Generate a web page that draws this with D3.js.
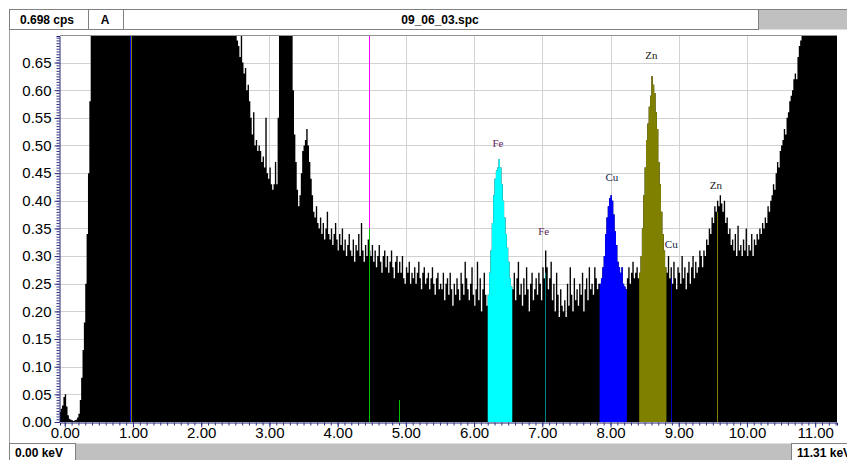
<!DOCTYPE html>
<html><head><meta charset="utf-8">
<script src="https://cdn.jsdelivr.net/npm/d3@7"></script>
<style>body{margin:0;background:#fff}svg{display:block}</style>
</head><body>
<svg id="c" width="847" height="460"></svg>
<script>
// ---------- data ----------
const energyStart = -0.08;   // keV, start of first channel
const channelWidth = 0.02;   // keV per channel
const counts = [
 0.018,0.024,0.030,0.045,0.050,0.028,0.012,0.006,0.004,0.003,
 0.002,0.003,0.004,0.008,0.015,0.040,0.080,0.130,0.180,0.250,
 0.340,0.450,0.580,0.750,0.93,1.15,1.40,1.62,1.85,2.05,
 2.21,2.38,2.52,2.66,2.80,2.95,3.08,3.22,3.41,3.65,
 3.94,4.32,4.81,5.35,5.92,6.40,6.71,6.85,6.62,6.18,
 5.64,5.10,4.62,4.21,3.88,3.60,3.37,3.18,3.02,2.88,
 2.76,2.65,2.55,2.46,2.38,2.31,2.24,2.18,2.12,2.07,
 2.02,1.97,1.93,1.89,1.85,1.81,1.78,1.74,1.71,1.68,
 1.65,1.62,1.59,1.56,1.54,1.51,1.49,1.46,1.44,1.42,
 1.39,1.37,1.35,1.33,1.31,1.29,1.27,1.25,1.23,1.21,
 1.19,1.17,1.15,1.13,1.11,1.09,1.07,1.05,1.03,1.01,
 0.99,0.97,0.96,0.94,0.93,0.91,0.90,0.88,0.87,0.85,
 0.84,0.83,0.81,0.80,0.79,0.77,0.76,0.74,0.72,0.71,
 0.69,0.68,0.66,0.70,0.65,0.63,0.64,0.60,0.61,0.58,
 0.55,0.52,0.56,0.50,0.51,0.49,0.50,0.49,0.47,0.48,
 0.46,0.55,0.45,0.44,0.46,0.43,0.42,0.43,0.47,0.43,
 0.55,0.85,1.20,1.60,1.90,2.00,1.80,1.50,1.20,0.95,
 0.75,0.60,0.52,0.47,0.42,0.39,0.41,0.45,0.49,0.50,
 0.51,0.53,0.50,0.47,0.44,0.41,0.38,0.37,0.39,0.36,
 0.35,0.37,0.34,0.36,0.33,0.35,0.38,0.34,0.33,0.35,
 0.32,0.34,0.36,0.33,0.31,0.34,0.32,0.35,0.31,0.33,
 0.30,0.32,0.34,0.31,0.30,0.33,0.29,0.32,0.31,0.34,
 0.30,0.36,0.31,0.29,0.32,0.30,0.33,0.31,0.30,0.32,
 0.29,0.31,0.28,0.30,0.32,0.29,0.27,0.30,0.31,0.28,
 0.30,0.27,0.29,0.31,0.28,0.26,0.29,0.30,0.27,0.29,
 0.27,0.30,0.26,0.25,0.28,0.27,0.29,0.25,0.27,0.26,
 0.28,0.25,0.27,0.29,0.26,0.24,0.27,0.28,0.25,0.26,
 0.27,0.24,0.26,0.28,0.25,0.23,0.26,0.27,0.24,0.25,
 0.24,0.27,0.22,0.25,0.26,0.23,0.27,0.24,0.21,0.25,
 0.23,0.26,0.24,0.22,0.27,0.25,0.23,0.29,0.26,0.24,
 0.22,0.25,0.28,0.23,0.21,0.24,0.29,0.22,0.26,0.20,
 0.24,0.27,0.23,0.21,0.23,0.27,0.31,0.36,0.41,0.44,
 0.455,0.46,0.475,0.46,0.43,0.40,0.37,0.34,0.315,0.29,
 0.26,0.245,0.24,0.27,0.22,0.26,0.29,0.23,0.25,0.21,
 0.26,0.23,0.28,0.24,0.20,0.25,0.27,0.22,0.24,0.26,
 0.23,0.27,0.25,0.22,0.28,0.26,0.31,0.28,0.24,0.26,
 0.29,0.22,0.25,0.20,0.27,0.23,0.19,0.24,0.21,0.20,
 0.22,0.19,0.25,0.21,0.28,0.23,0.20,0.26,0.22,0.24,
 0.21,0.25,0.23,0.27,0.20,0.24,0.26,0.22,0.28,0.24,
 0.25,0.23,0.28,0.26,0.24,0.25,0.25,0.26,0.28,0.30,
 0.34,0.37,0.39,0.405,0.41,0.40,0.375,0.345,0.32,0.29,
 0.28,0.27,0.28,0.25,0.245,0.24,0.26,0.28,0.25,0.27,
 0.29,0.26,0.27,0.28,0.26,0.27,0.30,0.35,0.41,0.46,
 0.51,0.54,0.57,0.59,0.625,0.61,0.595,0.56,0.53,0.47,
 0.43,0.38,0.34,0.31,0.28,0.27,0.30,0.26,0.28,0.25,
 0.29,0.26,0.24,0.28,0.27,0.25,0.30,0.26,0.28,0.24,
 0.27,0.29,0.25,0.28,0.30,0.26,0.29,0.27,0.28,0.31,
 0.30,0.28,0.31,0.30,0.33,0.32,0.35,0.34,0.37,0.36,
 0.39,0.38,0.40,0.39,0.41,0.395,0.38,0.40,0.36,0.37,
 0.34,0.35,0.32,0.33,0.31,0.34,0.30,0.355,0.31,0.32,
 0.30,0.33,0.31,0.35,0.30,0.32,0.31,0.34,0.30,0.33,
 0.32,0.34,0.33,0.35,0.34,0.36,0.35,0.37,0.36,0.39,
 0.38,0.40,0.41,0.43,0.42,0.45,0.47,0.46,0.49,0.50,
 0.51,0.53,0.52,0.55,0.56,0.58,0.59,0.60,0.62,0.63,
 0.62,0.66,0.68,0.69,0.71,0.74,0.79,0.86,0.92,0.97,
 1.04,1.12,1.18,1.25,1.33,1.41,1.48,1.57,1.66,1.74,
 1.85,1.93,2.04,2.15,2.26,2.38,2.51,2.63,2.77,2.90
];
const xTickValues = [0,1,2,3,4,5,6,7,8,9,10,11];
const yTickValues = [0,0.05,0.10,0.15,0.20,0.25,0.30,0.35,0.40,0.45,0.50,0.55,0.60,0.65];
const fullScaleCps = 0.698;
const fullScaleKeV = 11.31;

// regions of interest (coloured peaks)
const roiStart  = [6.20, 7.84, 8.42];
const roiEnd    = [6.56, 8.24, 8.82];
const roiColors = ['#00ffff', '#0000ff', '#808000'];

// marker lines
const markerEnergy = [0.95, 0.97, 4.46, 4.90, 7.04, 8.89, 9.56];
const markerTop    = [0.698, 0.698, 0.35, 0.04, 0.27, 0.26, 0.38];
const markerColors = ['#0000ff', '#808000', '#00c000', '#00c000', '#008080', '#0000c0', '#808000'];
const cursorEnergy = 4.46, cursorFrom = 0.35;

// element labels
const labelText   = ['Fe', 'Fe', 'Cu', 'Cu', 'Zn', 'Zn'];
const labelEnergy = [6.35, 7.02, 8.02, 8.89, 8.60, 9.545];
const labelValue  = [0.498, 0.339, 0.435, 0.314, 0.657, 0.422];
const labelColors = ['#602060', '#602060', '#102040', '#102040', '#202020', '#202020'];

// ---------- drawing ----------
const svg = d3.select('#c');
const L = 60, R = 837, T = 36, B = 422;
const x = d3.scaleLinear().domain([-0.07, 11.32]).range([L, R]);
const y = d3.scaleLinear().domain([0, fullScaleCps]).range([B, T]);

const chans = counts.map((v, i) => ({e: +(energyStart + i * channelWidth).toFixed(4), v}));
const last = chans[chans.length - 1];
const pts = chans.concat([{e: +(last.e + channelWidth).toFixed(4), v: last.v}]);

// outer frame
svg.append('line').attr('x1', 9.5).attr('x2', 9.5).attr('y1', 29).attr('y2', 444).attr('stroke', '#a0a0a0');

// header
const hdrY = 9.5, hdrH = 20;
svg.append('rect').attr('x', 758.5).attr('y', hdrY).attr('width', 90).attr('height', hdrH).attr('fill', '#c0c0c0');
[[9.5, 79], [88.5, 35], [123.5, 635]].forEach(([bx, bw]) => {
  svg.append('rect').attr('x', bx).attr('y', hdrY).attr('width', bw).attr('height', hdrH)
    .attr('fill', '#fff').attr('stroke', '#808080');
});
svg.append('line').attr('x1', 9.5).attr('x2', 847).attr('y1', hdrY).attr('y2', hdrY).attr('stroke', '#808080');
const hdrFont = "'Liberation Sans Narrow','Arial Narrow','Liberation Sans',sans-serif";
svg.append('text').attr('x', 47).attr('y', 23.5).attr('text-anchor', 'middle')
  .attr('font-family', hdrFont).attr('font-weight', 'bold').attr('font-size', 12)
  .text(fullScaleCps.toFixed(3) + ' cps');
svg.append('text').attr('x', 105).attr('y', 23.5).attr('text-anchor', 'middle')
  .attr('font-family', hdrFont).attr('font-weight', 'bold').attr('font-size', 12).text('A');
svg.append('text').attr('x', 440).attr('y', 23.5).attr('text-anchor', 'middle')
  .attr('font-family', hdrFont).attr('font-weight', 'bold').attr('font-size', 12).text('09_06_03.spc');

// footer
const ftY = 443.5;
svg.append('rect').attr('x', 75.5).attr('y', ftY).attr('width', 716).attr('height', 20).attr('fill', '#c0c0c0');
[[9.5, 66], [791.5, 60]].forEach(([bx, bw]) => {
  svg.append('rect').attr('x', bx).attr('y', ftY).attr('width', bw).attr('height', 20)
    .attr('fill', '#fff').attr('stroke', '#808080');
});
svg.append('text').attr('x', 15).attr('y', 457).attr('font-family', hdrFont).attr('font-weight', 'bold')
  .attr('font-size', 12).text('0.00 keV');
svg.append('text').attr('x', 797).attr('y', 457).attr('font-family', hdrFont).attr('font-weight', 'bold')
  .attr('font-size', 12).text(fullScaleKeV.toFixed(2) + ' keV');

// clip
svg.append('clipPath').attr('id', 'plot').append('rect')
  .attr('x', L).attr('y', T).attr('width', R - L).attr('height', B - T);
const g = svg.append('g').attr('clip-path', 'url(#plot)');

// grid
g.selectAll('.hg').data(yTickValues.filter(d => d > 0)).join('line')
  .attr('x1', L).attr('x2', R).attr('y1', d => Math.round(y(d)) + 0.5).attr('y2', d => Math.round(y(d)) + 0.5)
  .attr('stroke', '#d2d2d2');
g.selectAll('.vg').data(xTickValues.filter(d => d > 0)).join('line')
  .attr('y1', T).attr('y2', B).attr('x1', d => Math.round(x(d)) + 0.5).attr('x2', d => Math.round(x(d)) + 0.5)
  .attr('stroke', '#d2d2d2');

// spectrum
const area = d3.area().curve(d3.curveStepAfter)
  .x(d => x(d.e)).y0(y(0)).y1(d => y(Math.min(d.v, 5)));
g.append('path').datum(pts).attr('d', area).attr('fill', '#000');

// ROIs
roiStart.forEach((s, k) => {
  const sub = chans.filter(c => c.e >= s - 1e-6 && c.e + channelWidth <= roiEnd[k] + 1e-6);
  const lastC = sub[sub.length - 1];
  const sp = sub.concat([{e: +(lastC.e + channelWidth).toFixed(4), v: lastC.v}]);
  g.append('path').datum(sp).attr('d', area).attr('fill', roiColors[k]);
});

// markers
markerEnergy.forEach((e, k) => {
  const xx = Math.round(x(e)) + 0.5;
  g.append('line').attr('x1', xx).attr('x2', xx).attr('y1', y(0)).attr('y2', y(markerTop[k]))
    .attr('stroke', markerColors[k]).attr('stroke-width', 1);
});
{
  const xx = Math.round(x(cursorEnergy)) + 0.5;
  g.append('line').attr('x1', xx).attr('x2', xx).attr('y1', y(cursorFrom)).attr('y2', T)
    .attr('stroke', '#ff00ff');
}

// labels
labelText.forEach((t, k) => {
  g.append('text').attr('x', x(labelEnergy[k])).attr('y', y(labelValue[k])).attr('text-anchor', 'middle')
    .attr('font-family', "'Liberation Serif','Times New Roman',serif").attr('font-size', 11)
    .attr('fill', labelColors[k]).text(t);
});

// top frame
svg.append('line').attr('x1', L).attr('x2', R).attr('y1', T - 0.5).attr('y2', T - 0.5).attr('stroke', '#909090');

// axes
const axFont = "'Liberation Sans',Arial,sans-serif";
const yMinor = d3.range(0, 140).map(i => i * 0.005).filter(d => d <= fullScaleCps);
svg.append('g').attr('transform', `translate(${L - 0.5},0)`)
  .call(d3.axisLeft(y).tickValues(yMinor).tickSize(3).tickFormat(''))
  .call(a => a.select('.domain').attr('stroke', '#202070'))
  .call(a => a.selectAll('line').attr('stroke', '#303080'));
svg.append('g').attr('transform', `translate(${L - 0.5},0)`)
  .call(d3.axisLeft(y).tickValues(yTickValues).tickSize(5).tickFormat(d3.format('.2f')))
  .call(a => a.select('.domain').remove())
  .call(a => a.selectAll('line').attr('stroke', '#303080'))
  .call(a => a.selectAll('text').attr('font-family', axFont).attr('font-size', 15).attr('fill', '#000')
     .attr('x', -8));

const xMinor = d3.range(0, 114).map(i => i * 0.1).filter(d => d <= 11.3);
svg.append('g').attr('transform', `translate(0,${B + 0.5})`)
  .call(d3.axisBottom(x).tickValues(xMinor).tickSize(3).tickFormat(''))
  .call(a => a.select('.domain').attr('stroke', '#202070'))
  .call(a => a.selectAll('line').attr('stroke', '#303080'));
svg.append('g').attr('transform', `translate(0,${B + 0.5})`)
  .call(d3.axisBottom(x).tickValues(xTickValues).tickSize(5).tickFormat(d3.format('.2f')))
  .call(a => a.select('.domain').remove())
  .call(a => a.selectAll('line').attr('stroke', '#303080'))
  .call(a => a.selectAll('text').attr('font-family', axFont).attr('font-size', 15).attr('fill', '#000')
     .attr('y', 15).attr('dy', 0));
</script>
</body></html>
